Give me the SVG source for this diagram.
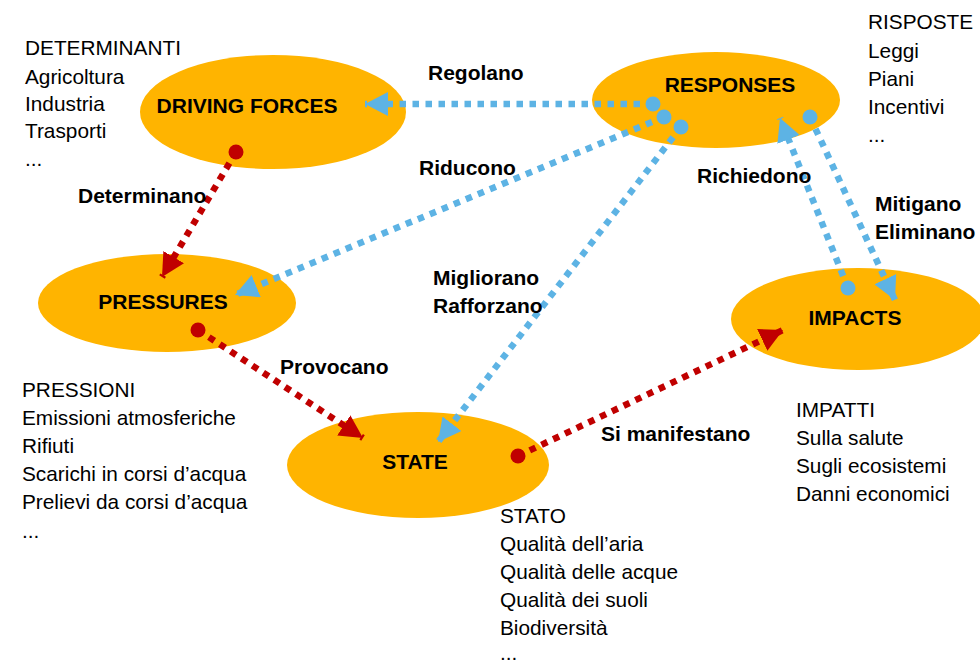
<svg xmlns="http://www.w3.org/2000/svg" width="980" height="665" viewBox="0 0 980 665">
<style>
.n{fill:#FFB400}
.lb{font-family:"Liberation Sans",Arial,sans-serif;font-weight:bold;font-size:21px;fill:#000}
.t{font-family:"Liberation Sans",Arial,sans-serif;font-size:20.8px;fill:#000}
.b{stroke:#5DB3E4;stroke-width:6.5;stroke-dasharray:6.5 6.5;fill:none;marker-start:url(#cb);marker-end:url(#ab)}
.r{stroke:#C00000;stroke-width:6.5;stroke-dasharray:6.5 6.5;fill:none;marker-start:url(#cr);marker-end:url(#ar)}
</style>
<defs>
<marker id="ab" markerUnits="userSpaceOnUse" markerWidth="24" markerHeight="24" refX="23" refY="12" orient="auto"><path d="M0,0 L23,12 L0,24 z" fill="#5DB3E4"/></marker>
<marker id="ar" markerUnits="userSpaceOnUse" markerWidth="24" markerHeight="24" refX="23" refY="12" orient="auto"><path d="M0,0 L23,12 L0,24 z" fill="#C00000"/></marker>
<marker id="cb" markerUnits="userSpaceOnUse" markerWidth="16" markerHeight="16" refX="8" refY="8"><circle cx="8" cy="8" r="7.5" fill="#5DB3E4"/></marker>
<marker id="cr" markerUnits="userSpaceOnUse" markerWidth="16" markerHeight="16" refX="8" refY="8"><circle cx="8" cy="8" r="7.5" fill="#C00000"/></marker>
</defs>
<rect width="980" height="665" fill="#fff"/>
<g id="driving-forces"><ellipse class="n" cx="273" cy="112" rx="133" ry="57"/><text class="lb" x="247" y="113" text-anchor="middle">DRIVING FORCES</text></g>
<g id="responses"><ellipse class="n" cx="716" cy="100" rx="124" ry="48"/><text class="lb" x="730" y="92" text-anchor="middle">RESPONSES</text></g>
<g id="pressures"><ellipse class="n" cx="167" cy="303" rx="129" ry="49"/><text class="lb" x="163" y="309" text-anchor="middle">PRESSURES</text></g>
<g id="state"><ellipse class="n" cx="418" cy="465" rx="131" ry="53"/><text class="lb" x="415" y="469" text-anchor="middle">STATE</text></g>
<g id="impacts"><ellipse class="n" cx="858" cy="319" rx="127" ry="51"/><text class="lb" x="855" y="325" text-anchor="middle">IMPACTS</text></g>
<g id="connectors">
<path class="b" d="M653,104 L365,104"/>
<path class="b" d="M664,117 L235,295"/>
<path class="b" d="M681,127 L438,442"/>
<path class="b" d="M848,288 L780,118"/>
<path class="b" d="M810,117 L895,300"/>
<path class="r" d="M236,152 L162,277"/>
<path class="r" d="M198,330 L363,438"/>
<path class="r" d="M518,456 L783,330"/>
</g>
<g id="labels">
<text class="lb" x="428" y="80">Regolano</text>
<text class="lb" x="78" y="203">Determinano</text>
<text class="lb" x="419" y="175">Riducono</text>
<text class="lb" x="697" y="183">Richiedono</text>
<text class="lb" x="875" y="211">Mitigano</text>
<text class="lb" x="875" y="239">Eliminano</text>
<text class="lb" x="433" y="285">Migliorano</text>
<text class="lb" x="433" y="313">Rafforzano</text>
<text class="lb" x="280" y="374">Provocano</text>
<text class="lb" x="601" y="441">Si manifestano</text>
</g>
<g id="notes">
<text class="t" x="25" y="55">DETERMINANTI</text>
<text class="t" x="25" y="84">Agricoltura</text>
<text class="t" x="25" y="111">Industria</text>
<text class="t" x="25" y="138">Trasporti</text>
<text class="t" x="25" y="166">...</text>
<text class="t" x="868" y="29">RISPOSTE</text>
<text class="t" x="868" y="58">Leggi</text>
<text class="t" x="868" y="86">Piani</text>
<text class="t" x="868" y="114">Incentivi</text>
<text class="t" x="868" y="142">...</text>
<text class="t" x="22" y="397">PRESSIONI</text>
<text class="t" x="22" y="425">Emissioni atmosferiche</text>
<text class="t" x="22" y="453">Rifiuti</text>
<text class="t" x="22" y="481">Scarichi in corsi d’acqua</text>
<text class="t" x="22" y="509">Prelievi da corsi d’acqua</text>
<text class="t" x="22" y="538">...</text>
<text class="t" x="796" y="417">IMPATTI</text>
<text class="t" x="796" y="445">Sulla salute</text>
<text class="t" x="796" y="473">Sugli ecosistemi</text>
<text class="t" x="796" y="501">Danni economici</text>
<text class="t" x="500" y="523">STATO</text>
<text class="t" x="500" y="551">Qualità dell’aria</text>
<text class="t" x="500" y="579">Qualità delle acque</text>
<text class="t" x="500" y="607">Qualità dei suoli</text>
<text class="t" x="500" y="635">Biodiversità</text>
<text class="t" x="500" y="660">...</text>
</g>
</svg>
